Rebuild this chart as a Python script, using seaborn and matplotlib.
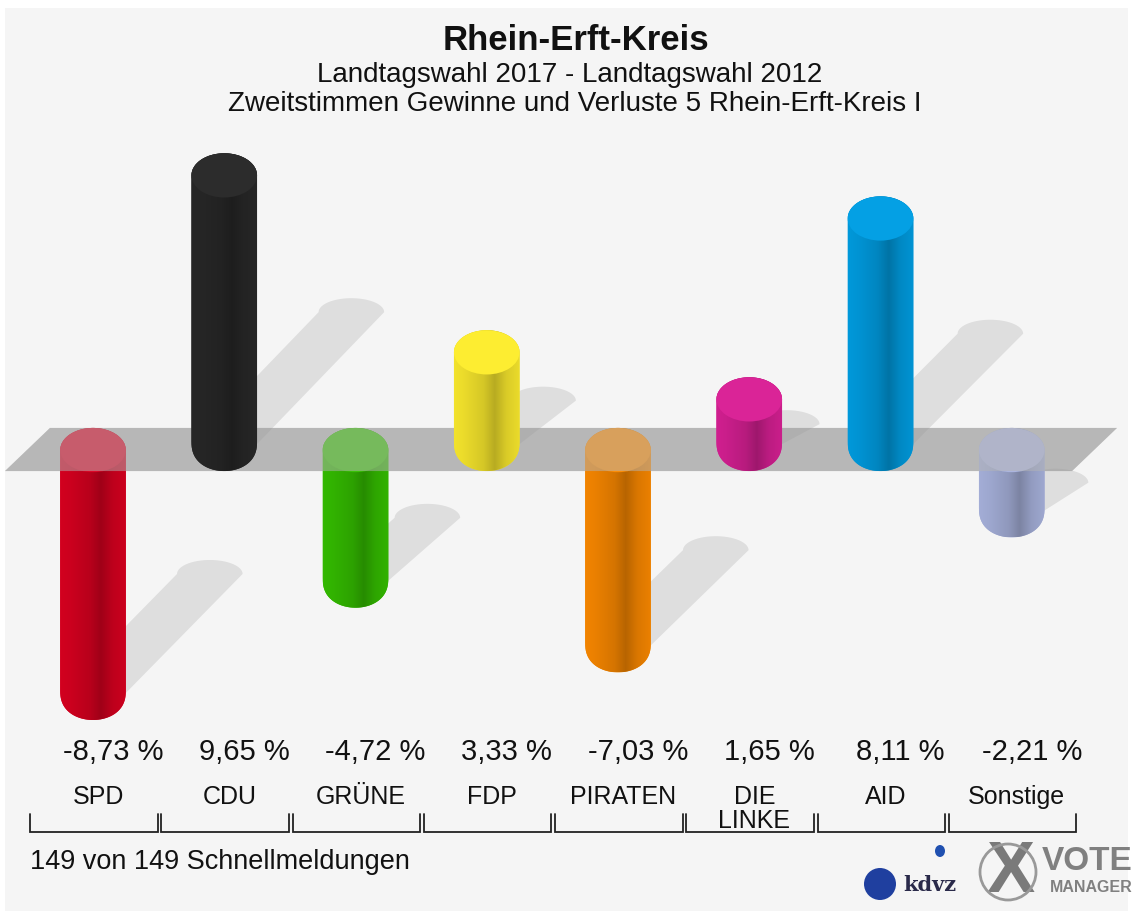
import numpy as np
import pandas as pd
import seaborn as sns
import matplotlib.pyplot as plt
from matplotlib.path import Path
from matplotlib.patches import PathPatch, Ellipse, Rectangle, Polygon
from matplotlib.colors import to_rgb

# --- data -------------------------------------------------------------------
parties = ['SPD', 'CDU', 'GRÜNE', 'FDP', 'PIRATEN', 'DIE\nLINKE', 'AID', 'Sonstige']
changes = [-8.73, 9.65, -4.72, 3.33, -7.03, 1.65, 8.11, -2.21]
colors = ['#d2001f', '#272727', '#33b800', '#f2e22c', '#f28400', '#d01f8f', '#0098da', '#a3add6']
value_labels = ['-8,73 %', '9,65 %', '-4,72 %', '3,33 %', '-7,03 %', '1,65 %', '8,11 %', '-2,21 %']

title = 'Rhein-Erft-Kreis'
subtitle1 = 'Landtagswahl 2017 - Landtagswahl 2012'
subtitle2 = 'Zweitstimmen Gewinne und Verluste 5 Rhein-Erft-Kreis I'
footer = '149 von 149 Schnellmeldungen'

# --- layout (pixels) --------------------------------------------------------
W, H = 1133, 911
X0, DX = 93, 131.25      # pixel x of first category, spacing
Y0, DY = 449.5, 28.0     # pixel y of zero plane, pixels per percent
BAND = 0.77              # half thickness of zero plane (percent units)
TIP = 0.93               # extra length of the cylinder beyond its value
RT, RB = 0.79, 1.07      # rounding of the cylinder ends


def fx(px):
    return px / W


def fy(py):
    return 1 - py / H


def cyl_path(x0, x1, lo, hi, rt, rb, n=48):
    xc, a = (x0 + x1) / 2, (x1 - x0) / 2
    t = np.linspace(np.pi, 0, n)
    top = np.column_stack([xc + a * np.cos(t), hi - rt + rt * np.sin(t)])
    t = np.linspace(0, -np.pi, n)
    # slightly pointed lower end
    bot = np.column_stack([xc + a * np.cos(t), lo + rb - rb * np.abs(np.sin(t)) ** 0.8])
    verts = np.vstack([top, bot, top[:1]])
    return Path(verts, closed=True)


def shadow_path(x0, x1, lo, length, n=30):
    dy = 0.5 * length
    dx = 0.8 * dy * DY / DX
    base = lo + 0.9 * RB
    xc, a = (x0 + x1) / 2 + dx, (x1 - x0) / 2
    top_y = lo + dy
    t = np.linspace(0, np.pi, n)
    arc = np.column_stack([xc + a * np.cos(t), top_y + 0.5 * np.sin(t)])
    verts = np.vstack([[[x0, base], [x1, base]], arc, [[x0, base]]])
    return Path(verts, closed=True)


sns.set_theme(style='white')
plt.rcParams['font.family'] = ['Liberation Sans', 'DejaVu Sans']

fig = plt.figure(figsize=(W / 100, H / 100), dpi=100, facecolor='white')
fig.patches.append(Rectangle((fx(5), 0), fx(1123), fy(8), transform=fig.transFigure,
                             facecolor='#f5f5f5', edgecolor='none', zorder=-5))
ax = fig.add_axes([0, 0, 1, 1])
ax.patch.set_alpha(0)

df = pd.DataFrame({'party': parties, 'change': changes})
sns.barplot(data=df, x='party', y='change', hue='party', palette=colors, order=parties,
            width=0.5, legend=False, ax=ax, saturation=1)

xlim = (-X0 / DX, (W - X0) / DX)
ylim = (-(H - Y0) / DY, Y0 / DY)

# zero plane (opaque underneath, translucent copy above the negative bars)
band = [(xlim[0] + 5 / DX, -BAND), (xlim[0] + 50 / DX, BAND),
        (xlim[0] + 1117 / DX, BAND), (xlim[0] + 1072 / DX, -BAND)]
ax.add_patch(Polygon(band, closed=True, facecolor='#bcbcbc', edgecolor='none', zorder=1))
ax.add_patch(Polygon(band, closed=True, facecolor='#b4b4b4', edgecolor='none',
                     alpha=0.5, zorder=3))

prof_t = [0, 0.15, 0.45, 0.62, 0.8, 1]
prof_f = [1.0, 0.97, 0.88, 0.76, 0.9, 0.97]
tt = np.linspace(0, 1, 64)
shade = np.interp(tt, prof_t, prof_f)

for p in list(ax.patches):
    if not hasattr(p, 'get_height') or p.get_width() > 1:
        continue
    v = p.get_height()
    x0 = p.get_x()
    x1 = x0 + p.get_width()
    i = int(round(x0 + p.get_width() / 2))
    col = np.array(to_rgb(p.get_facecolor()))
    p.set_visible(False)
    if v >= 0:
        lo, hi, z = -BAND, v + TIP, 4
    else:
        lo, hi, z = v - TIP, BAND, 2
    # shadow
    ax.add_patch(PathPatch(shadow_path(x0, x1, lo, hi - lo), facecolor='black',
                           edgecolor='none', alpha=0.09, zorder=1.5))
    # cylinder body with horizontal shading
    body = PathPatch(cyl_path(x0, x1, lo, hi, RT, RB), facecolor=col,
                     edgecolor='none', zorder=z)
    ax.add_patch(body)
    img = np.clip(col[None, :] * shade[:, None], 0, 1)[None, :, :]
    im = ax.imshow(img, extent=(x0, x1, lo, hi), aspect='auto', zorder=z + 0.05,
                   interpolation='bilinear')
    im.set_clip_path(body)
    ax.add_patch(Ellipse(((x0 + x1) / 2, hi - RT), x1 - x0, 2 * RT,
                         facecolor=np.clip(col * 1.03 + 0.015, 0, 1),
                         edgecolor='none', zorder=z + 0.1))

    # labels and bracket
    ax.text(i + 20 / DX, (Y0 - 752) / DY, value_labels[i], ha='center', va='center',
            fontsize=21, color='#111111')
    ax.text(i + 5 / DX, (Y0 - 785) / DY, parties[i], ha='center', va='top',
            fontsize=18, color='#111111', linespacing=0.98)
    bx0, bx1 = i - 63 / DX, i + 64.5 / DX
    yb, yt = (Y0 - 832) / DY, (Y0 - 814) / DY
    ax.plot([bx0, bx0, bx1, bx1], [yt, yb, yb, yt], color='#222222', lw=1.3,
            solid_joinstyle='miter', zorder=5)

ax.set_xlim(*xlim)
ax.set_ylim(*ylim)
ax.set_axis_off()

fig.text(fx(576), fy(40), title, ha='center', va='center', fontsize=25,
         fontweight='bold', color='#111111')
fig.text(fx(570), fy(75), subtitle1, ha='center', va='center', fontsize=20, color='#111111')
fig.text(fx(575), fy(104), subtitle2, ha='center', va='center', fontsize=20, color='#111111')
fig.text(fx(30), fy(862), footer, ha='left', va='center', fontsize=19.5, color='#111111')

# logos
fig.text(fx(903), fy(885), 'kdvz', ha='left', va='center', fontsize=15,
         fontweight='bold', family='DejaVu Serif', color='#2a2a4a')
fig.patches.append(Ellipse((fx(880), fy(884)), 32 / W, 32 / H, transform=fig.transFigure,
                           facecolor='#1f3f9f', edgecolor='none', zorder=6))
fig.patches.append(Ellipse((fx(940), fy(851)), 10 / W, 12 / H, transform=fig.transFigure,
                           facecolor='#2050b0', edgecolor='none', zorder=6))
fig.patches.append(Ellipse((fx(1008), fy(872)), 56 / W, 56 / H, transform=fig.transFigure,
                           facecolor='none', edgecolor='#999999', lw=2, zorder=6))
fig.text(fx(1010), fy(873), 'X', ha='center', va='center', fontsize=52,
         fontweight='bold', color='#7a7a7a')
fig.text(fx(1133), fy(861), 'VOTE', ha='right', va='center', fontsize=24,
         fontweight='bold', color='#808080')
fig.text(fx(1133), fy(888), 'MANAGER', ha='right', va='center', fontsize=11.5,
         fontweight='bold', color='#808080')

fig.savefig('out.png', dpi=100, facecolor='white')
